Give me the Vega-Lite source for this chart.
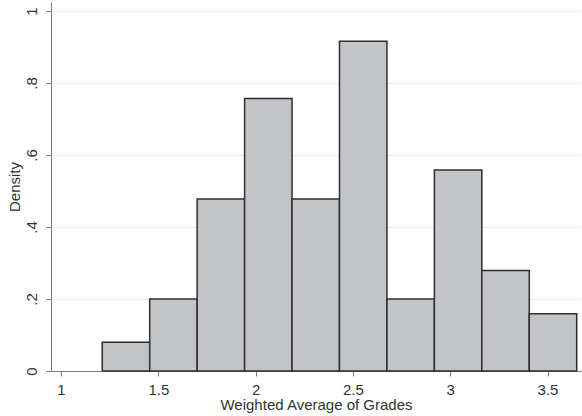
{
  "$schema": "https://vega.github.io/schema/vega-lite/v6.json",
  "autosize": {"type": "none"},
  "padding": {"left": 51, "top": 2, "right": 1, "bottom": 45},
  "width": 530,
  "height": 369,
  "background": "white",
  "config": {
    "view": {"stroke": null},
    "font": "Liberation Sans"
  },
  "data": {
    "values": [
      {"bin_start": 1.212, "bin_end": 1.4558, "density": 0.080},
      {"bin_start": 1.4558, "bin_end": 1.6996, "density": 0.200},
      {"bin_start": 1.6996, "bin_end": 1.9434, "density": 0.478},
      {"bin_start": 1.9434, "bin_end": 2.1872, "density": 0.757},
      {"bin_start": 2.1872, "bin_end": 2.431, "density": 0.478},
      {"bin_start": 2.431, "bin_end": 2.6748, "density": 0.916},
      {"bin_start": 2.6748, "bin_end": 2.9186, "density": 0.200},
      {"bin_start": 2.9186, "bin_end": 3.1624, "density": 0.558},
      {"bin_start": 3.1624, "bin_end": 3.4062, "density": 0.279},
      {"bin_start": 3.4062, "bin_end": 3.65, "density": 0.159}
    ]
  },
  "mark": {"type": "rect", "fill": "#c3c4c8", "stroke": "#2e2e2e", "strokeWidth": 1.5},
  "encoding": {
    "x": {
      "field": "bin_start",
      "type": "quantitative",
      "scale": {"domain": [0.9486, 3.672], "nice": false, "zero": false},
      "axis": {
        "title": "Weighted Average of Grades",
        "values": [1, 1.5, 2, 2.5, 3, 3.5],
        "labelExpr": "format(datum.value, '~g')",
        "grid": false,
        "domainColor": "#7a7a7a",
        "tickColor": "#7a7a7a",
        "tickSize": 5,
        "labelFontSize": 15,
        "labelColor": "#333333",
        "labelBaseline": "alphabetic",
        "labelPadding": 18.5,
        "titleFontSize": 15,
        "titleFontWeight": "normal",
        "titleColor": "#333333",
        "titleBaseline": "alphabetic",
        "titleY": 38.3
      }
    },
    "x2": {"field": "bin_end"},
    "y": {
      "field": "density",
      "type": "quantitative",
      "scale": {"domain": [0, 1.025], "nice": false},
      "axis": {
        "title": "Density",
        "values": [0, 0.2, 0.4, 0.6, 0.8, 1],
        "labelExpr": "datum.value == 0 ? '0' : datum.value == 1 ? '1' : '.' + format(datum.value * 10, 'd')",
        "grid": true,
        "gridColor": "#ebebeb",
        "gridWidth": 1,
        "domainColor": "#7a7a7a",
        "tickColor": "#7a7a7a",
        "tickSize": 5,
        "labelFontSize": 15,
        "labelColor": "#333333",
        "labelAngle": -90,
        "labelAlign": "center",
        "labelBaseline": "alphabetic",
        "labelPadding": 9.3,
        "titleFontSize": 15,
        "titleFontWeight": "normal",
        "titleColor": "#333333",
        "titleAngle": -90,
        "titleAlign": "center",
        "titleBaseline": "alphabetic",
        "titleX": -32,
        "titleY": 184.5
      }
    },
    "y2": {"datum": 0}
  }
}
